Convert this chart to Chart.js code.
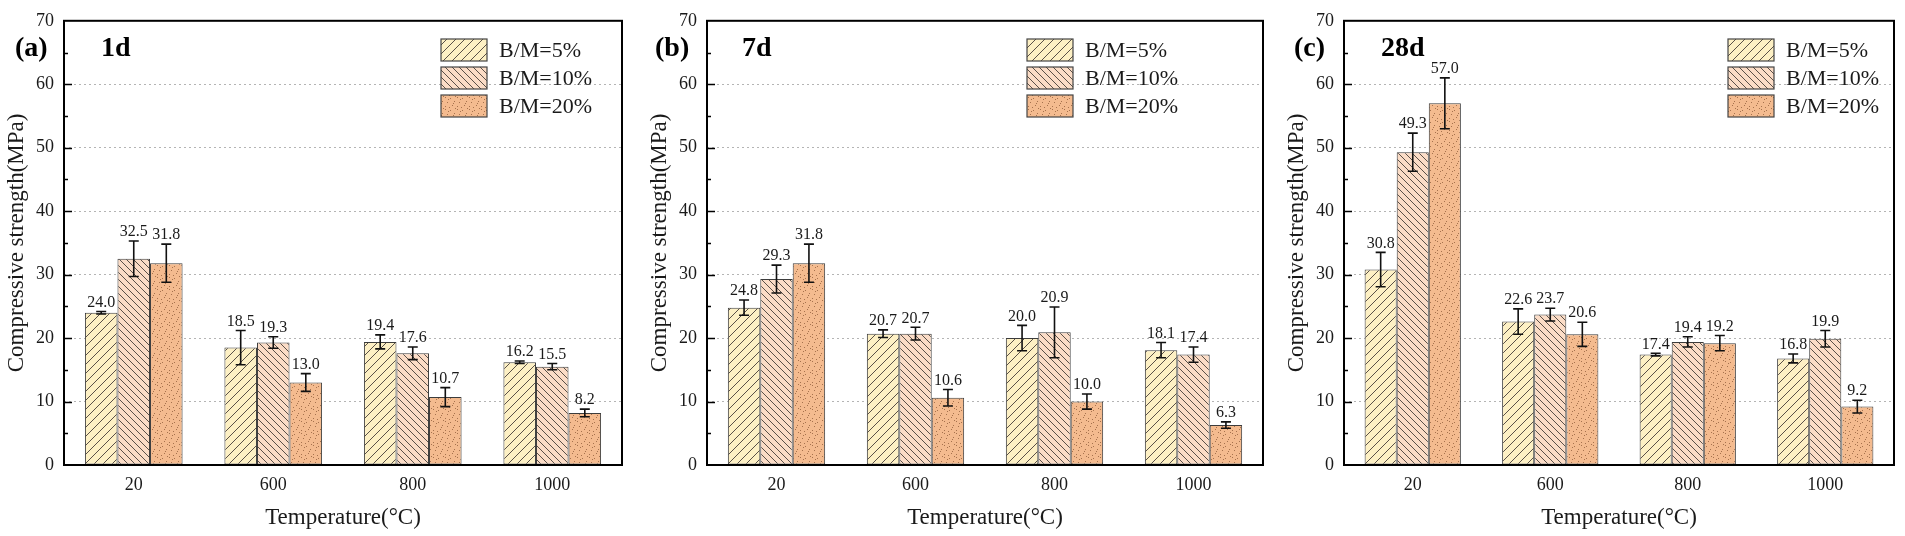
<!DOCTYPE html>
<html>
<head>
<meta charset="utf-8">
<script src="https://cdn.jsdelivr.net/npm/chart.js@4.4.0/dist/chart.umd.min.js"></script>
<style>
    html, body { margin: 0; padding: 0; background: #fff; }
    #wrap { position: relative; width: 1905px; height: 536px; overflow: hidden; }
    #wrap canvas { position: absolute; top: 0; }
</style>
</head>
<body>
<div id="wrap">
    <canvas id="chartA" width="635" height="536" style="left:0px"></canvas>
    <canvas id="chartB" width="627" height="536" style="left:643px"></canvas>
    <canvas id="chartC" width="625" height="536" style="left:1280px"></canvas>
</div>
<script>
// ================= Data =================
const temperatures = ['20', '600', '800', '1000'];
const seriesNames = ['B/M=5%', 'B/M=10%', 'B/M=20%'];

// 1 day
const day1_bm5 = [24.0, 18.5, 19.4, 16.2];
const day1_bm10 = [32.5, 19.3, 17.6, 15.5];
const day1_bm20 = [31.8, 13.0, 10.7, 8.2];
const day1_err5 = [0.2, 2.7, 1.1, 0.2];
const day1_err10 = [2.8, 0.9, 1.0, 0.5];
const day1_err20 = [3.0, 1.4, 1.5, 0.6];

// 7 days
const day7_bm5 = [24.8, 20.7, 20.0, 18.1];
const day7_bm10 = [29.3, 20.7, 20.9, 17.4];
const day7_bm20 = [31.8, 10.6, 10.0, 6.3];
const day7_err5 = [1.2, 0.6, 2.0, 1.2];
const day7_err10 = [2.2, 1.0, 4.0, 1.2];
const day7_err20 = [3.0, 1.3, 1.2, 0.5];

// 28 days
const day28_bm5 = [30.8, 22.6, 17.4, 16.8];
const day28_bm10 = [49.3, 23.7, 19.4, 19.9];
const day28_bm20 = [57.0, 20.6, 19.2, 9.2];
const day28_err5 = [2.7, 2.0, 0.2, 0.7];
const day28_err10 = [3.0, 1.0, 0.8, 1.3];
const day28_err20 = [4.0, 1.9, 1.2, 1.0];

const yTicks = [0, 10, 20, 30, 40, 50, 60, 70];

// ================= Styling =================
const serif = "'Liberation Serif', 'Times New Roman', serif";
Chart.defaults.font.family = serif;
Chart.defaults.color = '#1a1a1a';

// Fill patterns for the three series
function hatchPattern(bg, size, forward) {
    const c = document.createElement('canvas');
    c.width = size; c.height = size;
    const g = c.getContext('2d');
    g.fillStyle = bg;
    g.fillRect(0, 0, size, size);
    g.strokeStyle = '#5a5048';
    g.lineWidth = 1;
    g.beginPath();
    if (forward) {
        g.moveTo(-1, size + 1); g.lineTo(size + 1, -1);
        g.moveTo(-2, 2); g.lineTo(2, -2);
        g.moveTo(size - 2, size + 2); g.lineTo(size + 2, size - 2);
    } else {
        g.moveTo(-1, -1); g.lineTo(size + 1, size + 1);
        g.moveTo(-2, size - 2); g.lineTo(2, size + 2);
        g.moveTo(size - 2, -2); g.lineTo(size + 2, 2);
    }
    g.stroke();
    return g.createPattern(c, 'repeat');
}

function dotPattern(bg) {
    const c = document.createElement('canvas');
    c.width = 12; c.height = 12;
    const g = c.getContext('2d');
    g.fillStyle = bg;
    g.fillRect(0, 0, 12, 12);
    g.fillStyle = 'rgba(140, 90, 55, 0.75)';
    const dots = [[1, 1], [6, 2], [10, 5], [3, 6], [8, 9], [1, 10], [5, 11], [11, 0], [4, 3], [9, 7]];
    dots.forEach(([x, y]) => g.fillRect(x, y, 1, 1));
    return g.createPattern(c, 'repeat');
}

const fills = [
    hatchPattern('#fdf0c4', 9, true),
    hatchPattern('#fbdcc6', 7, false),
    dotPattern('#f4bb8f')
];

// ================= Decorations: frame, ticks, error bars, labels, legend =================
const decorPlugin = {
    id: 'decor',
    afterDatasetsDraw(chart) {
        const { ctx, scales: { y } } = chart;
        ctx.save();
        chart.data.datasets.forEach((ds, di) => {
            const meta = chart.getDatasetMeta(di);
            meta.data.forEach((bar, i) => {
                const v = ds.data[i];
                const e = ds.errors[i];
                const yTop = y.getPixelForValue(v + e);
                const yBot = y.getPixelForValue(v - e);
                ctx.strokeStyle = '#111';
                ctx.lineWidth = 1.6;
                ctx.beginPath();
                ctx.moveTo(bar.x, yTop); ctx.lineTo(bar.x, yBot);
                ctx.moveTo(bar.x - 5, yTop); ctx.lineTo(bar.x + 5, yTop);
                ctx.moveTo(bar.x - 5, yBot); ctx.lineTo(bar.x + 5, yBot);
                ctx.stroke();

                ctx.fillStyle = '#1a1a1a';
                ctx.font = `16px ${serif}`;
                ctx.textAlign = 'center';
                ctx.textBaseline = 'bottom';
                ctx.fillText(v.toFixed(1), bar.x, Math.min(yTop, bar.y) - 1);
            });
        });
        ctx.restore();
    },
    afterDraw(chart, args, opts) {
        const { ctx, chartArea: a, scales: { y } } = chart;
        ctx.save();

        // frame
        ctx.strokeStyle = '#000';
        ctx.lineWidth = 2;
        ctx.strokeRect(a.left, a.top, a.width, a.height);

        // inward ticks on the left axis
        ctx.lineWidth = 1.5;
        ctx.beginPath();
        for (let v = 5; v < 70; v += 5) {
            const py = Math.round(y.getPixelForValue(v)) + 0.5;
            ctx.moveTo(a.left, py);
            ctx.lineTo(a.left + (v % 10 === 0 ? 8 : 4), py);
        }
        ctx.stroke();

        // panel letter and age
        ctx.fillStyle = '#000';
        ctx.font = `bold 28px ${serif}`;
        ctx.textAlign = 'left';
        ctx.textBaseline = 'middle';
        ctx.fillText(opts.letter, a.left + opts.letterDx, 49);
        ctx.fillText(opts.age, a.left + opts.ageDx, 49);

        // legend
        const lx = a.right - opts.legendDx;
        chart.data.datasets.forEach((ds, di) => {
            const top = 39 + di * 28;
            ctx.fillStyle = ds.backgroundColor;
            ctx.fillRect(lx, top, 46, 22);
            ctx.strokeStyle = '#444';
            ctx.lineWidth = 1.2;
            ctx.strokeRect(lx, top, 46, 22);
            ctx.fillStyle = '#1a1a1a';
            ctx.font = `22px ${serif}`;
            ctx.textBaseline = 'middle';
            ctx.fillText(ds.label, lx + 58, top + 12);
        });
        ctx.restore();
    }
};

// ================= Chart builder =================
function makeDataset(label, values, errors, idx) {
    return {
        label,
        data: values,
        errors,
        backgroundColor: fills[idx],
        borderColor: '#3c3c3c',
        borderWidth: 1,
        borderSkipped: false,
        categoryPercentage: 0.7,
        barPercentage: 1.0
    };
}

function createPanel(canvasId, series, errors, deco, rightPad) {
    const canvas = document.getElementById(canvasId);
    return new Chart(canvas, {
        type: 'bar',
        data: {
            labels: temperatures,
            datasets: series.map((s, i) => makeDataset(seriesNames[i], s, errors[i], i))
        },
        options: {
            responsive: false,
            animation: false,
            devicePixelRatio: 1,
            layout: { padding: { top: 16, right: rightPad, left: 0, bottom: 0 } },
            plugins: {
                legend: { display: false },
                tooltip: { enabled: false },
                decor: deco
            },
            scales: {
                x: {
                    grid: { display: false, drawTicks: false },
                    border: { display: false },
                    ticks: { padding: 9, color: '#1a1a1a', font: { size: 18 } },
                    title: {
                        display: true,
                        text: 'Temperature(°C)',
                        color: '#1a1a1a',
                        font: { size: 23 },
                        padding: { top: 4, bottom: 4 }
                    },
                    afterFit(scale) { scale.height = 71; }
                },
                y: {
                    min: 0,
                    max: 70,
                    afterBuildTicks(scale) { scale.ticks = yTicks.map(v => ({ value: v })); },
                    grid: {
                        drawTicks: false,
                        lineWidth: 1,
                        color: c => (c.tick && (c.tick.value === 0 || c.tick.value === 70)) ? 'rgba(0,0,0,0)' : '#b4b4b4'
                    },
                    border: { display: false, dash: [2, 3] },
                    ticks: { padding: 10, color: '#1a1a1a', font: { size: 18 } },
                    title: {
                        display: true,
                        text: 'Compressive strength(MPa)',
                        color: '#1a1a1a',
                        font: { size: 23 },
                        padding: { top: 3, bottom: 0 }
                    },
                    afterFit(scale) { scale.width = 64; }
                }
            }
        },
        plugins: [decorPlugin]
    });
}

createPanel('chartA',
    [day1_bm5, day1_bm10, day1_bm20],
    [day1_err5, day1_err10, day1_err20],
    { letter: '(a)', age: '1d', letterDx: -49, ageDx: 37, legendDx: 181 }, 13);

createPanel('chartB',
    [day7_bm5, day7_bm10, day7_bm20],
    [day7_err5, day7_err10, day7_err20],
    { letter: '(b)', age: '7d', letterDx: -52, ageDx: 35, legendDx: 236 }, 7);

createPanel('chartC',
    [day28_bm5, day28_bm10, day28_bm20],
    [day28_err5, day28_err10, day28_err20],
    { letter: '(c)', age: '28d', letterDx: -50, ageDx: 37, legendDx: 166 }, 11);
</script>
</body>
</html>
